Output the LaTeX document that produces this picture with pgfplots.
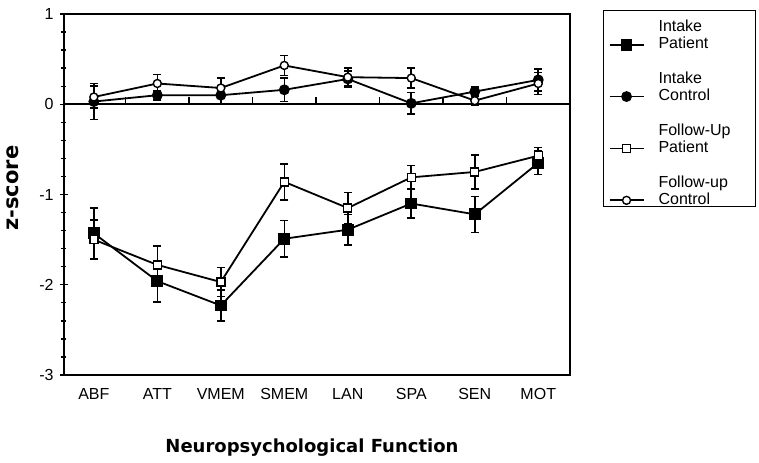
\documentclass[border=0pt]{standalone}
\usepackage{pgfplots}
\pgfplotsset{compat=1.18}
\usepackage{fontspec}
\setmainfont{Liberation Sans}
\newfontfamily\lblfont{DejaVu Sans}

% two-line legend text, baseline on the last line
\newcommand{\legtext}[3][12.6bp]{\parbox[b]{92bp}{\fontsize{16bp}{17bp}\selectfont\rule{0pt}{#1}#2\\#3}}

\begin{document}
\begin{tikzpicture}
\useasboundingbox (-64bp,-88bp) rectangle (695bp,375bp);
\begin{axis}[
    at={(0,0)}, anchor=south west,
    scale only axis, width=506bp, height=361bp,
    xmin=-0.47, xmax=7.5, ymin=-3, ymax=1,
    xtick={0,...,7},
    xticklabels={ABF,ATT,VMEM,SMEM,LAN,SPA,SEN,MOT},
    xtick style={draw=none},
    xticklabel style={yshift=-6bp},
    ytick={-3,...,1}, yticklabels={-3,-2,-1,0,1},
    yticklabel style={xshift=-3bp},
    minor y tick num=4,
    ytick pos=left, tick align=center,
    major tick length=8bp, minor tick length=5bp,
    tick style={line width=1.3bp, black},
    axis line style={line width=1.6bp},
    ticklabel style={font=\fontsize{16bp}{18bp}\selectfont},
    xlabel={Neuropsychological Function},
    ylabel={z-score},
    xlabel style={font=\lblfont\bfseries\fontsize{18bp}{21bp}\selectfont,
        at={(axis description cs:0.49,-0.216)}, anchor=base},
    ylabel style={font=\lblfont\bfseries\fontsize{21bp}{24bp}\selectfont,
        at={(axis description cs:-0.0909,0.518)}, anchor=base},
    error bars/y dir=both, error bars/y explicit,
    error bars/error bar style={line width=1.6bp, black},
    error bars/error mark options={rotate=90, line width=1.6bp, mark size=4bp, black},
    legend style={at={(axis description cs:1,1)}, anchor=north west,
        xshift=33bp, yshift=4bp, draw=black, line width=1.3bp,
        inner xsep=5bp, inner ysep=1bp, row sep=20.8bp,
        cells={anchor=base west}, nodes={inner sep=0pt}},
    legend image code/.code={
        \path[draw=none, fill=none] (0bp,0bp) rectangle (49bp,1bp);
        \draw[mark repeat=2, mark phase=2, #1]
            plot coordinates {(0bp,4bp) (17bp,4bp) (34bp,4bp)};
    },
]
% zero line with small ticks between the categories
\draw[line width=1.6bp] (axis cs:-0.47,0) -- (axis cs:7.5,0);
\pgfplotsinvokeforeach{0.5,1.5,2.5,3.5,4.5,5.5,6.5}{
    \draw[line width=1.3bp] (axis cs:#1,0) -- ++(0bp,7bp);
}

\addplot[black, line width=1.8bp, mark=square*, mark size=5bp,
    mark options={fill=black, solid}]
    coordinates {
    (0,-1.43) +- (0,0.28)
    (1,-1.96) +- (0,0.23)
    (2,-2.23) +- (0,0.17)
    (3,-1.49) +- (0,0.20)
    (4,-1.39) +- (0,0.17)
    (5,-1.10) +- (0,0.16)
    (6,-1.22) +- (0,0.20)
    (7,-0.65) +- (0,0.13)
    };
\addlegendentry{\legtext[20bp]{Intake}{Patient}}

\addplot[black, line width=1.8bp, mark=*, mark size=4.5bp,
    mark options={fill=black, solid}]
    coordinates {
    (0,0.03) +- (0,0.20)
    (1,0.10) +- (0,0.05)
    (2,0.10) +- (0,0.10)
    (3,0.16) +- (0,0.13)
    (4,0.28) +- (0,0.09)
    (5,0.01) +- (0,0.12)
    (6,0.14) +- (0,0.05)
    (7,0.27) +- (0,0.12)
    };
\addlegendentry{\legtext{Intake}{Control}}

\addplot[black, line width=1.8bp, mark=square*, mark size=4bp,
    mark options={fill=white, solid, line width=1.4bp}]
    coordinates {
    (0,-1.50) +- (0,0.22)
    (1,-1.78) +- (0,0.21)
    (2,-1.97) +- (0,0.16)
    (3,-0.86) +- (0,0.20)
    (4,-1.15) +- (0,0.17)
    (5,-0.81) +- (0,0.13)
    (6,-0.75) +- (0,0.19)
    (7,-0.57) +- (0,0.09)
    };
\addlegendentry{\legtext{Follow-Up}{Patient}}

\addplot[black, line width=1.8bp, mark=*, mark size=4bp,
    mark options={fill=white, solid, line width=1.4bp}]
    coordinates {
    (0,0.08) +- (0,0.12)
    (1,0.23) +- (0,0.10)
    (2,0.18) +- (0,0.11)
    (3,0.43) +- (0,0.11)
    (4,0.30) +- (0,0.10)
    (5,0.29) +- (0,0.11)
    (6,0.04) +- (0,0.05)
    (7,0.23) +- (0,0.12)
    };
\addlegendentry{\legtext{Follow-up}{Control}}
\end{axis}
\end{tikzpicture}
\end{document}
